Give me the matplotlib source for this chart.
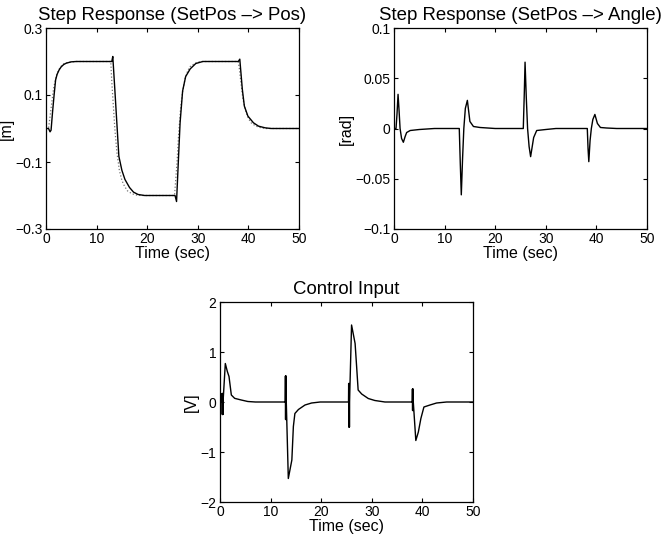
import matplotlib
matplotlib.use("Agg")
import matplotlib.pyplot as plt
from matplotlib.ticker import FuncFormatter

plt.rcParams['font.family'] = ['Liberation Sans', 'DejaVu Sans']

# Step response: cart position (solid) and reference model (dotted)
t_pos = [0, 0.5, 0.8, 1.0, 1.3, 1.6, 1.9, 2.2, 2.6, 3.0, 3.5, 4.0, 5.0, 6.0,
         13.0, 13.2, 13.6, 14.0, 14.4, 15.0, 15.6, 16.5, 17.3, 18.2, 19.5,
         25.5, 25.8, 26.2, 26.5, 27.0, 27.6, 28.5, 29.6, 31.0,
         38.0, 38.3, 38.8, 39.2, 39.9, 41.0, 42.0, 43.3, 44.5, 50]
pos = [0, 0, -0.01, -0.005, 0.05, 0.1, 0.145, 0.162, 0.175, 0.184, 0.191, 0.195, 0.199, 0.2,
       0.2, 0.215, 0.117, 0.017, -0.083, -0.125, -0.152, -0.176, -0.19, -0.197, -0.2,
       -0.2, -0.218, -0.083, 0.017, 0.112, 0.155, 0.178, 0.194, 0.2,
       0.2, 0.207, 0.117, 0.067, 0.037, 0.017, 0.007, 0.002, 0, 0]

t_ref = [0, 0.5, 1.0, 1.5, 2.0, 2.5, 3.0, 3.5, 4.0, 5.0, 6.0,
         12.8, 13.0, 13.3, 13.6, 14.0, 14.5, 15.0, 15.5, 16.1, 17.0, 18.0, 19.0,
         25.4, 25.6, 25.9, 26.2, 26.6, 27.0, 27.5, 28.0, 28.5, 29.5, 30.5,
         38.0, 38.2, 38.5, 38.9, 39.4, 40.0, 40.6, 41.5, 42.5, 43.5, 50]
ref = [0, 0, 0.06, 0.12, 0.155, 0.175, 0.186, 0.193, 0.196, 0.199, 0.2,
       0.2, 0.14, 0.07, 0.0, -0.07, -0.125, -0.155, -0.172, -0.186, -0.195, -0.199, -0.2,
       -0.2, -0.16, -0.1, -0.02, 0.06, 0.11, 0.15, 0.172, 0.185, 0.195, 0.2,
       0.2, 0.18, 0.14, 0.09, 0.055, 0.03, 0.016, 0.007, 0.002, 0, 0]

# Step response: pendulum angle
t_ang = [0, 0.4, 0.6, 0.8, 1.0, 1.2, 1.5, 1.85, 2.2, 2.5, 3.2, 5, 8,
         12.9, 13.1, 13.3, 13.55, 13.8, 14.1, 14.5, 15.0, 15.7, 17, 20,
         25.55, 25.75, 25.9, 26.15, 26.4, 26.7, 27.0, 27.6, 28.2, 30, 32,
         38.2, 38.35, 38.5, 38.75, 39.0, 39.3, 39.7, 40.2, 40.8, 42, 44, 50]
ang = [0, 0, 0.015, 0.034, 0.018, 0.0, -0.01, -0.0137, -0.008, -0.004, -0.002, -0.001, 0,
       0, -0.035, -0.066, -0.03, 0.0, 0.02, 0.028, 0.007, 0.002, 0.001, 0,
       0, 0.035, 0.066, 0.03, 0.0, -0.018, -0.028, -0.009, -0.002, -0.001, 0,
       0, -0.02, -0.033, -0.012, 0.0, 0.009, 0.014, 0.005, 0.001, 0.0005, 0, 0]

# Control input (with chattering at each setpoint change)
t_u = [0, 0.4, 0.43, 0.46, 0.49, 0.52, 0.55, 0.58, 0.6, 1.05, 1.45, 1.78, 2.24, 2.9, 4.2, 5.5, 7,
       12.9, 12.93, 12.96, 12.99, 13.02, 13.05, 13.08, 13.1, 13.5, 14.2, 14.5, 14.8, 15.5, 16.8, 18.1, 19.8,
       25.4, 25.43, 25.46, 25.49, 25.52, 25.55, 25.58, 25.6, 26.0, 26.7, 27.0, 27.3, 28.0, 29.3, 30.6, 32.6,
       38.0, 38.03, 38.06, 38.09, 38.12, 38.15, 38.18, 38.2, 38.7, 39.2, 39.7, 40.3, 41.5, 42.8, 44.8, 50]
u = [0, 0, 0.17, -0.25, 0.17, -0.25, 0.17, -0.25, 0.0, 0.77, 0.61, 0.51, 0.14, 0.073, 0.04, 0.01, 0,
     0, 0.52, -0.35, 0.52, -0.35, 0.52, -0.35, 0.0, -1.53, -1.16, -0.49, -0.23, -0.15, -0.06, -0.02, 0,
     0, 0.37, -0.5, 0.37, -0.5, 0.37, -0.5, 0.0, 1.54, 1.17, 0.71, 0.24, 0.16, 0.07, 0.03, 0,
     0, 0.26, -0.17, 0.26, -0.17, 0.26, -0.17, 0.0, -0.77, -0.6, -0.33, -0.1, -0.06, -0.02, 0, 0]

x_ticks = [0, 10, 20, 30, 40, 50]

# MATLAB-like tick text: shortest form, with a real minus sign
tick_fmt = FuncFormatter(lambda v, p: ('%g' % v).replace('-', '\u2212'))


def style_axes(ax, title, ylabel, yticks, ylim):
    ax.set_xlim(0, 50)
    ax.set_ylim(*ylim)
    ax.set_xticks(x_ticks)
    ax.set_yticks(yticks)
    ax.yaxis.set_major_formatter(tick_fmt)
    ax.tick_params(direction='in', top=True, right=True, length=3, width=0.8,
                   labelsize=10, pad=2.5)
    for sp in ax.spines.values():
        sp.set_linewidth(0.9)
    ax.set_title(title, fontsize=13.4, pad=6)
    ax.set_xlabel('Time (sec)', fontsize=11.5, labelpad=0)
    ax.set_ylabel(ylabel, fontsize=11.5, labelpad=1)


fig = plt.figure(figsize=(6.68, 5.45), dpi=100)

ax1 = fig.add_axes([46 / 668, 1 - 229 / 545, 253 / 668, 201 / 545])
ax1.plot(t_ref, ref, color='0.45', linestyle=':', linewidth=0.9)
ax1.plot(t_pos, pos, color='black', linewidth=1.0)
style_axes(ax1, 'Step Response (SetPos \u2013> Pos)', '[m]',
           [-0.3, -0.1, 0.1, 0.3], (-0.3, 0.3))

ax2 = fig.add_axes([394 / 668, 1 - 229 / 545, 253 / 668, 201 / 545])
ax2.plot(t_ang, ang, color='black', linewidth=1.0)
style_axes(ax2, 'Step Response (SetPos \u2013> Angle)', '[rad]',
           [-0.1, -0.05, 0, 0.05, 0.1], (-0.1, 0.1))

ax3 = fig.add_axes([220 / 668, 1 - 502 / 545, 253 / 668, 200 / 545])
ax3.plot(t_u, u, color='black', linewidth=1.0)
style_axes(ax3, 'Control Input', '[V]', [-2, -1, 0, 1, 2], (-2, 2))

fig.savefig('out.png', dpi=100)
